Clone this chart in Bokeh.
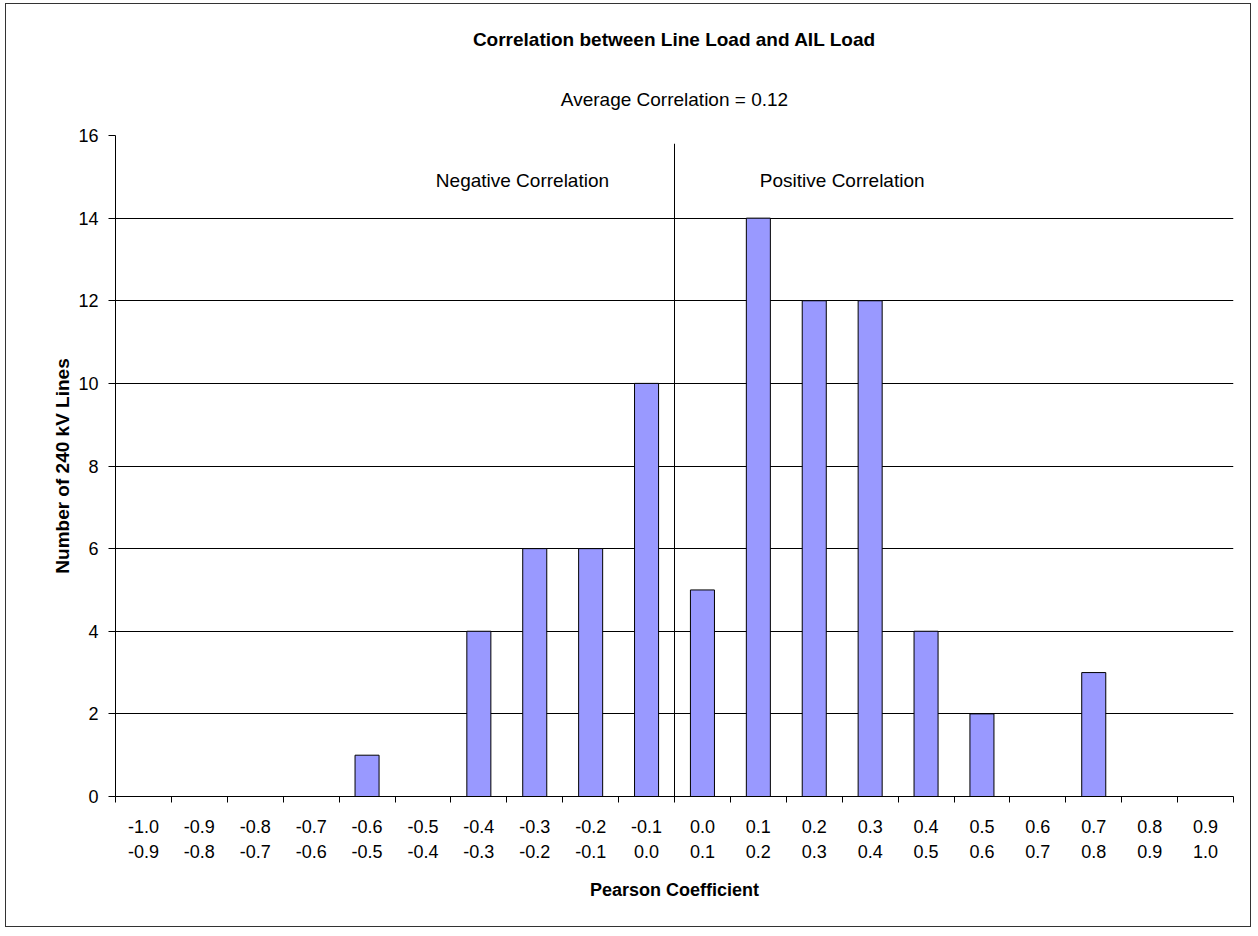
from bokeh.plotting import figure
from bokeh.models import Range1d, FixedTicker, Label, Title
from bokeh.embed import file_html
from bokeh.resources import INLINE

bin_low = ["-1.0", "-0.9", "-0.8", "-0.7", "-0.6", "-0.5", "-0.4", "-0.3", "-0.2", "-0.1",
           "0.0", "0.1", "0.2", "0.3", "0.4", "0.5", "0.6", "0.7", "0.8", "0.9"]
bin_high = ["-0.9", "-0.8", "-0.7", "-0.6", "-0.5", "-0.4", "-0.3", "-0.2", "-0.1", "0.0",
            "0.1", "0.2", "0.3", "0.4", "0.5", "0.6", "0.7", "0.8", "0.9", "1.0"]
counts = [0, 0, 0, 0, 1, 0, 4, 6, 6, 10, 5, 14, 12, 12, 4, 2, 0, 3, 0, 0]
y_ticks = [0, 2, 4, 6, 8, 10, 12, 14, 16]

FONT = "Liberation Sans"
n = len(counts)
centers = [i + 0.5 for i in range(n)]
edges = list(range(n + 1))

p = figure(width=1246, height=924, output_backend="svg", toolbar_location=None,
           x_range=Range1d(0, n), y_range=Range1d(0, 16),
           min_border_left=109, min_border_right=19, min_border_top=131, min_border_bottom=132)
p.styles = {"border": "1px solid #333333", "margin-left": "5px", "margin-top": "3px"}
p.outline_line_color = None
p.background_fill_color = "white"
p.border_fill_color = "white"

p.vbar(x=centers, top=counts, width=0.43, fill_color="#9999FF", line_color="black", line_width=1)

# divider between negative and positive correlation
p.segment(x0=[10], y0=[0], x1=[10], y1=[15.8], line_color="black", line_width=1)

p.add_layout(Label(x=7.28, y=14.9, text="Negative Correlation", text_align="center",
                   text_baseline="alphabetic", text_font=FONT, text_font_size="19px",
                   text_color="black"))
p.add_layout(Label(x=13.0, y=14.9, text="Positive Correlation", text_align="center",
                   text_baseline="alphabetic", text_font=FONT, text_font_size="19px",
                   text_color="black"))

# x axis
xa = p.xaxis[0]
xa.ticker = FixedTicker(ticks=centers, minor_ticks=edges)
xa.major_label_overrides = {c: f"{lo}\n{hi}" for c, lo, hi in zip(centers, bin_low, bin_high)}
xa.major_tick_out = 0
xa.major_tick_in = 0
xa.minor_tick_out = 6
xa.minor_tick_in = 0
xa.major_label_standoff = 14
xa.major_label_text_font = FONT
xa.major_label_text_font_size = "18px"
xa.major_label_text_line_height = 1.25
xa.major_label_text_color = "black"
xa.axis_label = "Pearson Coefficient"
xa.axis_label_text_font = FONT
xa.axis_label_text_font_size = "18px"
xa.axis_label_text_font_style = "bold"
xa.axis_label_text_color = "black"
xa.axis_label_standoff = 15
xa.axis_line_color = "black"
xa.minor_tick_line_color = "black"

# y axis
ya = p.yaxis[0]
ya.ticker = FixedTicker(ticks=y_ticks, minor_ticks=[])
ya.major_tick_out = 7
ya.major_tick_in = 0
ya.minor_tick_out = 0
ya.minor_tick_in = 0
ya.major_label_standoff = 10
ya.major_label_text_font = FONT
ya.major_label_text_font_size = "18px"
ya.major_label_text_color = "black"
ya.axis_label = "Number of 240 kV Lines"
ya.axis_label_text_font = FONT
ya.axis_label_text_font_size = "19px"
ya.axis_label_text_font_style = "bold"
ya.axis_label_text_color = "black"
ya.axis_label_standoff = 2
ya.axis_line_color = "black"
ya.major_tick_line_color = "black"

p.xgrid.grid_line_color = None
p.ygrid.ticker = FixedTicker(ticks=y_ticks)
p.ygrid.grid_line_color = "black"
p.ygrid.grid_line_width = 1

p.title.visible = False
p.add_layout(Title(text="Average Correlation = 0.12", align="center", text_font=FONT,
                   text_font_size="19px", text_font_style="normal", text_color="black",
                   standoff=52), "above")
p.add_layout(Title(text="Correlation between Line Load and AIL Load", align="center",
                   text_font=FONT, text_font_size="19px", text_font_style="bold",
                   text_color="black", standoff=21), "above")

open("out.html", "w").write(file_html(p, INLINE))
